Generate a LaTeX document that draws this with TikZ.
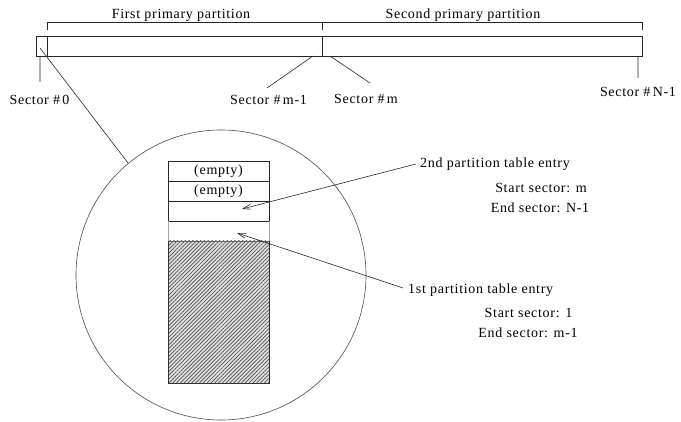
\documentclass[tikz,border=0pt]{standalone}
\usepackage{fontspec}
\setmainfont{Liberation Serif}[LetterSpace=5]
\usetikzlibrary{arrows.meta,patterns.meta}

\begin{document}
\begin{tikzpicture}[x=1pt,y=-1pt,>={Straight Barb[length=8pt,width=5pt]},
    lbl/.style={font=\fontsize{14}{16}\selectfont,inner sep=0pt},
    ln/.style={line width=0.6pt,black!85}]
  \useasboundingbox (0,0) rectangle (681,422);
  % top bar and partition brackets
  \draw[ln] (36,36) rectangle (642,56);
  \draw[ln] (47.7,36)--(47.7,56) (322,36)--(322,56);
  \draw[ln] (47.7,30)--(47.7,22.7)--(642,22.7)--(642,30) (322,22.7)--(322,30);
  \node[lbl] (first) at (181,15) {First primary partition};
  \node[lbl] (second) at (463,15) {Second primary partition};
  % sector labels
  \node[lbl] (s0) at (39.5,100) {Sector \#\,0};
  \node[lbl] (sm1) at (268.5,100) {Sector \#\,m-1};
  \node[lbl] (sm) at (366,99) {Sector \#\,m};
  \node[lbl] (sn1) at (638,92) {Sector \#\,N-1};
  \coordinate (s0a) at (40,56);   \coordinate (s0b) at (40,82);
  \coordinate (sm1a) at (313,56); \coordinate (sm1b) at (267,88);
  \coordinate (sma) at (330,56);  \coordinate (smb) at (370,83);
  \coordinate (sn1a) at (638,56); \coordinate (sn1b) at (638,78);
  \draw[ln] (s0a)--(s0b) (sm1a)--(sm1b) (sma)--(smb) (sn1a)--(sn1b);
  % zoom circle
  \draw[ln,black!70] (221,275) circle[radius=145];
  \coordinate (zoomfrom) at (40,48);
  \coordinate (zoomto) at (128,163);
  \draw[ln] (zoomfrom)--(zoomto);
  % sector 0 contents
  \draw[ln] (168,161) rectangle (269,221);
  \draw[ln] (168,181)--(269,181) (168,201)--(269,201);
  \draw[line width=0.6pt,black!35] (168,221)--(168,241) (269,221)--(269,241);
  \node[lbl] (e1) at (218.5,171) {(empty)};
  \node[lbl] (e2) at (218.5,191) {(empty)};
  \fill[black!12] (168,241) rectangle (269,383);
  \fill[pattern={Lines[angle=45,distance=2.7pt,line width=0.7pt]},pattern color=black!70]
    (168,241) rectangle (269,383);
  \draw[ln,black!60] (168,241)--(269,241);
  \draw[line width=0.9pt,black!80] (168,241)--(168,383)--(269,383)--(269,241);
  % table entries
  \node[lbl,anchor=west] (p2) at (420,164) {2nd partition table entry};
  \node[lbl] (p2s) at (541,188) {Start sector: m};
  \node[lbl] (p2e) at (540,208) {End sector: N-1};
  \node[lbl,anchor=west] (p1) at (408,290) {1st partition table entry};
  \node[lbl] (p1s) at (528.5,313) {Start sector: 1};
  \node[lbl] (p1e) at (528,333) {End sector: m-1};
  \coordinate (p2tip) at (242,209);
  \coordinate (p1tip) at (237,233);
  \draw[ln,->] (p2.west)++(-4,0)--(p2tip);
  \draw[ln,->] (p1.west)++(-5,-2)--(p1tip);
\end{tikzpicture}
\end{document}
